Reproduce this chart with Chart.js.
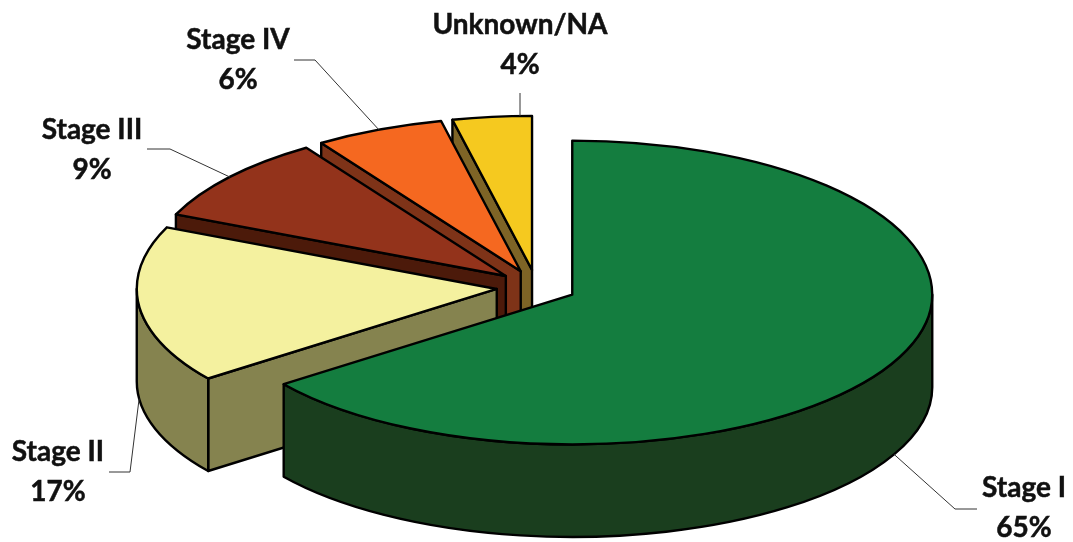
<!DOCTYPE html>
<html>
<head>
<meta charset="utf-8">
<style>
  html, body { margin: 0; padding: 0; background: #fff; }
  #chart { display: block; }
</style>
<script src="https://cdn.jsdelivr.net/npm/chart.js@4/dist/chart.umd.js"></script>
</head>
<body>
<div style="width:1073px;height:542px"><canvas id="chart"></canvas></div>
<script>
const categories = ["Stage I", "Stage II", "Stage III", "Stage IV", "Unknown/NA"];
const shares = [64.8, 16.75, 9.1, 5.8, 3.55];

const topColors = ["#147d3f", "#f4f19f", "#93331b", "#f56820", "#f5c91f"];
const wallColors = ["#1a3e1e", "#85834f", "#4c1a0a", "#7e3318", "#7e6426"];

// where each label sits and where its leader line bends
const labelCenters = [[1024, 488], [58, 452], [92, 130], [238, 40], [520, 25]];
const leaderElbows = [[[955, 509], [977, 509]], [[130, 472], [109, 472]], [[170, 149], [147, 149]], [[315, 60], [294, 60]], [[520, 93]]];
// how far along its rim a slice's leader line starts
const leaderStarts = [0.5, 0.5, 0.5, 0.5, 0.85];

const RADIUS = 360;
const SQUASH_BACK = 0.428;
const SQUASH_FRONT = 0.416;
const DEPTH = 92.5;
const EXPLODE = 40;

const total = shares.reduce((a, b) => a + b, 0);

// slice geometry on the squashed plane, angles and radius come from the arc element
function sliceShape(arc) {
  const mid = (arc.startAngle + arc.endAngle) / 2;
  return {
    a: arc.startAngle,
    b: arc.endAngle,
    mid: mid,
    x: arc.x + Math.cos(mid) * EXPLODE,
    y: arc.y + Math.sin(mid) * EXPLODE * SQUASH_BACK,
    r: arc.outerRadius
  };
}

function rimPoint(s, angle) {
  const k = Math.sin(angle) > 0 ? SQUASH_FRONT : SQUASH_BACK;
  return [s.x + Math.cos(angle) * s.r, s.y + Math.sin(angle) * s.r * k];
}

// the near half of the rim is a bit flatter than the far half
function traceRim(ctx, s, from, to) {
  const stops = [from];
  [0, Math.PI].forEach((q) => { if (q > from && q < to) stops.push(q); });
  stops.push(to);
  for (let i = 0; i < stops.length - 1; i++) {
    const m = (stops[i] + stops[i + 1]) / 2;
    const k = Math.sin(m) > 0 ? SQUASH_FRONT : SQUASH_BACK;
    ctx.ellipse(s.x, s.y, s.r, s.r * k, 0, stops[i], stops[i + 1]);
  }
}

class Pie3dController extends Chart.PieController {
  draw() {
    const ctx = this.chart.ctx;
    const arcs = this.getMeta().data;
    ctx.save();
    ctx.lineWidth = 2.4;
    ctx.lineJoin = "round";
    ctx.strokeStyle = "#000";
    // back slices first
    for (let i = arcs.length - 1; i >= 0; i--) {
      const s = sliceShape(arcs[i]);
      ctx.fillStyle = wallColors[i];
      // cut face along the start edge
      if (Math.cos(s.a) < -1e-6) {
        const p = rimPoint(s, s.a);
        ctx.beginPath();
        ctx.moveTo(s.x, s.y);
        ctx.lineTo(p[0], p[1]);
        ctx.lineTo(p[0], p[1] + DEPTH);
        ctx.lineTo(s.x, s.y + DEPTH);
        ctx.closePath();
        ctx.fill();
        ctx.stroke();
      }
      // outer wall, only the part that faces us
      const from = Math.max(s.a, 0);
      const to = Math.min(s.b, Math.PI);
      if (to > from) {
        ctx.beginPath();
        ctx.ellipse(s.x, s.y, s.r, s.r * SQUASH_FRONT, 0, from, to);
        ctx.ellipse(s.x, s.y + DEPTH, s.r, s.r * SQUASH_FRONT, 0, to, from, true);
        ctx.closePath();
        ctx.fill();
        ctx.stroke();
      }
    }
    // top faces
    arcs.forEach((arc) => {
      const s = sliceShape(arc);
      ctx.beginPath();
      ctx.moveTo(s.x, s.y);
      traceRim(ctx, s, s.a, s.b);
      ctx.closePath();
      ctx.fillStyle = arc.options.backgroundColor;
      ctx.fill();
      ctx.stroke();
    });
    ctx.restore();
  }
}
Pie3dController.id = "pie3d";
Pie3dController.defaults = Chart.PieController.defaults;
Pie3dController.overrides = Chart.PieController.overrides;
Chart.register(Pie3dController);

const calloutLabels = {
  id: "calloutLabels",
  afterDatasetsDraw(chart) {
    const ctx = chart.ctx;
    const arcs = chart.getDatasetMeta(0).data;
    ctx.save();
    arcs.forEach((arc, i) => {
      const s = sliceShape(arc);
      const angle = s.a + (s.b - s.a) * leaderStarts[i];
      const start = rimPoint(s, angle);
      const onWall = Math.sin(angle) > 0;
      ctx.beginPath();
      ctx.moveTo(start[0], start[1] + (onWall ? DEPTH : 0));
      leaderElbows[i].forEach((p) => ctx.lineTo(p[0], p[1]));
      ctx.lineWidth = 1;
      ctx.strokeStyle = "#333";
      ctx.stroke();

      const pos = labelCenters[i];
      const pct = Math.round(shares[i] / total * 100) + "%";
      ctx.fillStyle = "#111";
      ctx.strokeStyle = "#111";
      ctx.lineWidth = 0.5;
      ctx.font = "bold 28px Lato";
      ctx.textAlign = "center";
      ctx.textBaseline = "middle";
      ctx.fillText(categories[i], pos[0], pos[1]);
      ctx.strokeText(categories[i], pos[0], pos[1]);
      ctx.fillText(pct, pos[0], pos[1] + 40);
      ctx.strokeText(pct, pos[0], pos[1] + 40);
    });
    ctx.restore();
  }
};

new Chart(document.getElementById("chart"), {
  type: "pie3d",
  data: {
    labels: categories,
    datasets: [{
      data: shares,
      backgroundColor: topColors,
      borderWidth: 0,
      radius: RADIUS,
      clip: false
    }]
  },
  options: {
    responsive: true,
    maintainAspectRatio: false,
    animation: false,
    events: [],
    layout: { padding: { top: 32, right: 0 } },
    plugins: {
      legend: { display: false },
      tooltip: { enabled: false }
    }
  },
  plugins: [calloutLabels]
});
</script>
</body>
</html>
